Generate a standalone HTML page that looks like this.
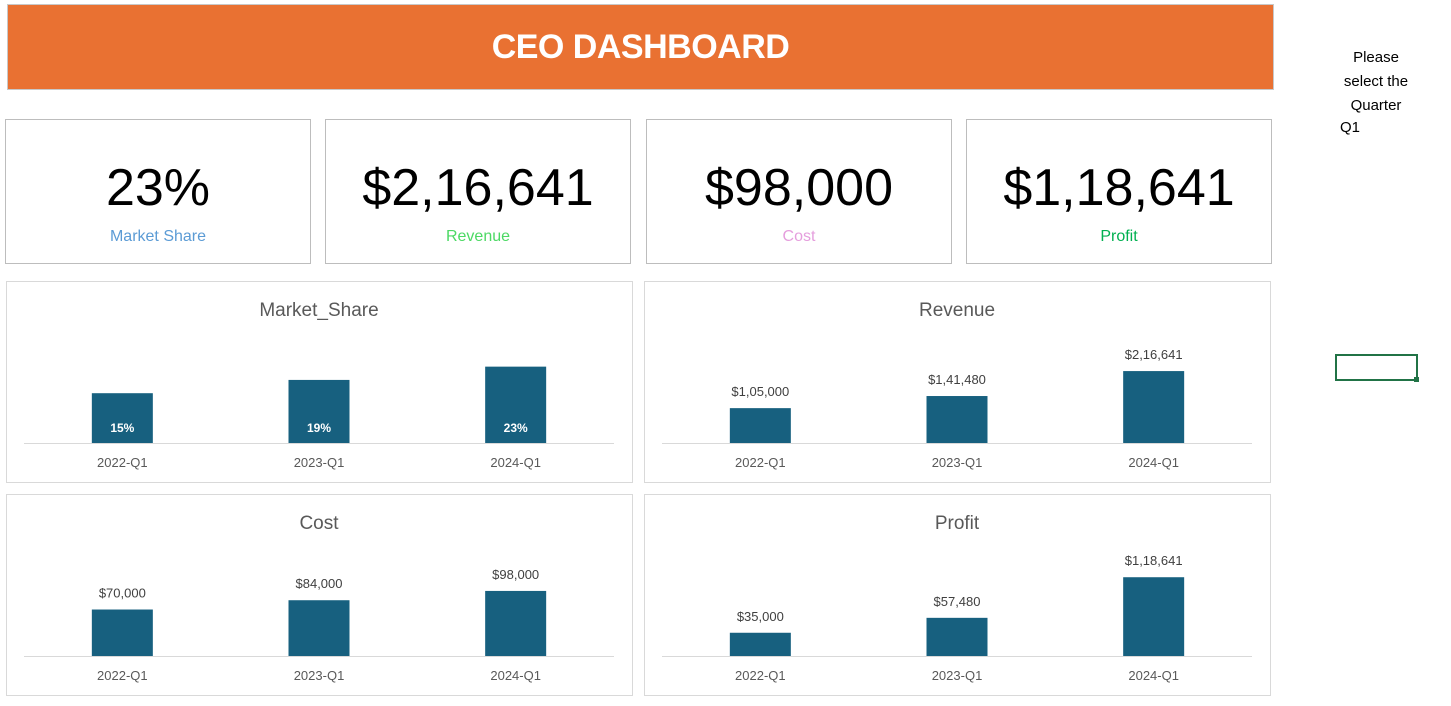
<!DOCTYPE html>
<html><head><meta charset="utf-8"><style>
body{margin:0;width:1451px;height:706px;background:#fff;position:relative;overflow:hidden;font-family:"Liberation Sans",sans-serif}
.abs{position:absolute;box-sizing:border-box}
.hdr{left:7px;top:4px;width:1267px;height:86px;background:#E97132;border:1px solid #c8c8c8;color:#fff;font-weight:bold;font-size:34px;text-align:center;line-height:84px;letter-spacing:-0.5px}
.kpi{top:119px;height:145px;border:1px solid #bdbdbd;text-align:center}
.kpi .v{position:absolute;left:0;right:0;top:38px;font-size:52px;line-height:60px;color:#000}
.kpi .l{position:absolute;left:0;right:0;top:108px;font-size:16px}
.chart{border:1px solid #d9d9d9}
.side{font-family:"Liberation Sans",sans-serif;font-size:15px;color:#000}
</style></head><body>
<div class="abs hdr">CEO DASHBOARD</div>
<div class="abs kpi" style="left:5px;width:306px"><div class="v">23%</div><div class="l" style="color:#5B9BD5">Market Share</div></div>
<div class="abs kpi" style="left:325px;width:306px"><div class="v">$2,16,641</div><div class="l" style="color:#4CD964">Revenue</div></div>
<div class="abs kpi" style="left:646px;width:306px"><div class="v">$98,000</div><div class="l" style="color:#E59EDD">Cost</div></div>
<div class="abs kpi" style="left:966px;width:306px"><div class="v">$1,18,641</div><div class="l" style="color:#00B050">Profit</div></div>
<div class="abs side" style="left:1330px;top:46px;width:92px;text-align:center;line-height:24px">Please<br>select the<br>Quarter</div>
<div class="abs side" style="left:1340px;top:119px">Q1</div>
<div class="abs" style="left:1335px;top:354px;width:83px;height:27px;border:2px solid #217346"></div>
<div class="abs" style="left:1414px;top:377px;width:5px;height:5px;background:#217346"></div>
<svg class="abs" style="left:0;top:0" width="1451" height="706" id="charts"></svg>
<script>
const categories=["2022-Q1","2023-Q1","2024-Q1"];
const marketShareValues=[15,19,23];
const revenueValues=[105000,141480,216641];
const costValues=[70000,84000,98000];
const profitValues=[35000,57480,118641];
const marketShareLabels=["15%","19%","23%"];
const revenueLabels=["$1,05,000","$1,41,480","$2,16,641"];
const costLabels=["$70,000","$84,000","$98,000"];
const profitLabels=["$35,000","$57,480","$1,18,641"];
const svg=document.getElementById('charts');
const NS='http://www.w3.org/2000/svg';
function mk(tag,attrs,text){const e=document.createElementNS(NS,tag);for(const k in attrs)e.setAttribute(k,attrs[k]);if(text!==undefined)e.textContent=text;svg.appendChild(e);return e;}
function chart(name,x,y,title,vals,labels,max,inside){
  const w=627,h=202;
  const box=mk('rect',{x:x+0.5,y:y+0.5,width:w-1,height:h-1,fill:'#fff',stroke:'#d9d9d9'});
  
  
  const t=mk('text',{x:x+313,y:y+35,'text-anchor':'middle','font-size':19,fill:'#595959'},title);
  
  
  const base=y+162, ph=83, left=x+18, right=x+608;
  const ax=mk('line',{x1:left,x2:right,y1:base+0.5,y2:base+0.5,stroke:'#d9d9d9'});
  
  
  const band=(right-left)/categories.length;
  const yS=v=>base-v/max*ph;
  categories.forEach((c,i)=>{
    const cx=left+band*(i+0.5);
    const top=yS(vals[i]);
    const b=mk('rect',{x:cx-30.5,y:top,width:61,height:base-top,fill:'#17607F'});
    
    
    const lbl=inside?mk('text',{x:cx,y:base-11,'text-anchor':'middle','font-size':12,'font-weight':'bold',fill:'#fff'},labels[i])
      :mk('text',{x:cx,y:top-12,'text-anchor':'middle','font-size':13,fill:'#404040'},labels[i]);
    
    
    const cl=mk('text',{x:cx,y:base+24,'text-anchor':'middle','font-size':13,fill:'#595959'},c);
    
    
  });
}
chart('market-share',6,281,'Market_Share',marketShareValues,marketShareLabels,25,true);
chart('revenue',644,281,'Revenue',revenueValues,revenueLabels,250000,false);
chart('cost',6,494,'Cost',costValues,costLabels,125000,false);
chart('profit',644,494,'Profit',profitValues,profitLabels,125000,false);
</script>
</body></html>
